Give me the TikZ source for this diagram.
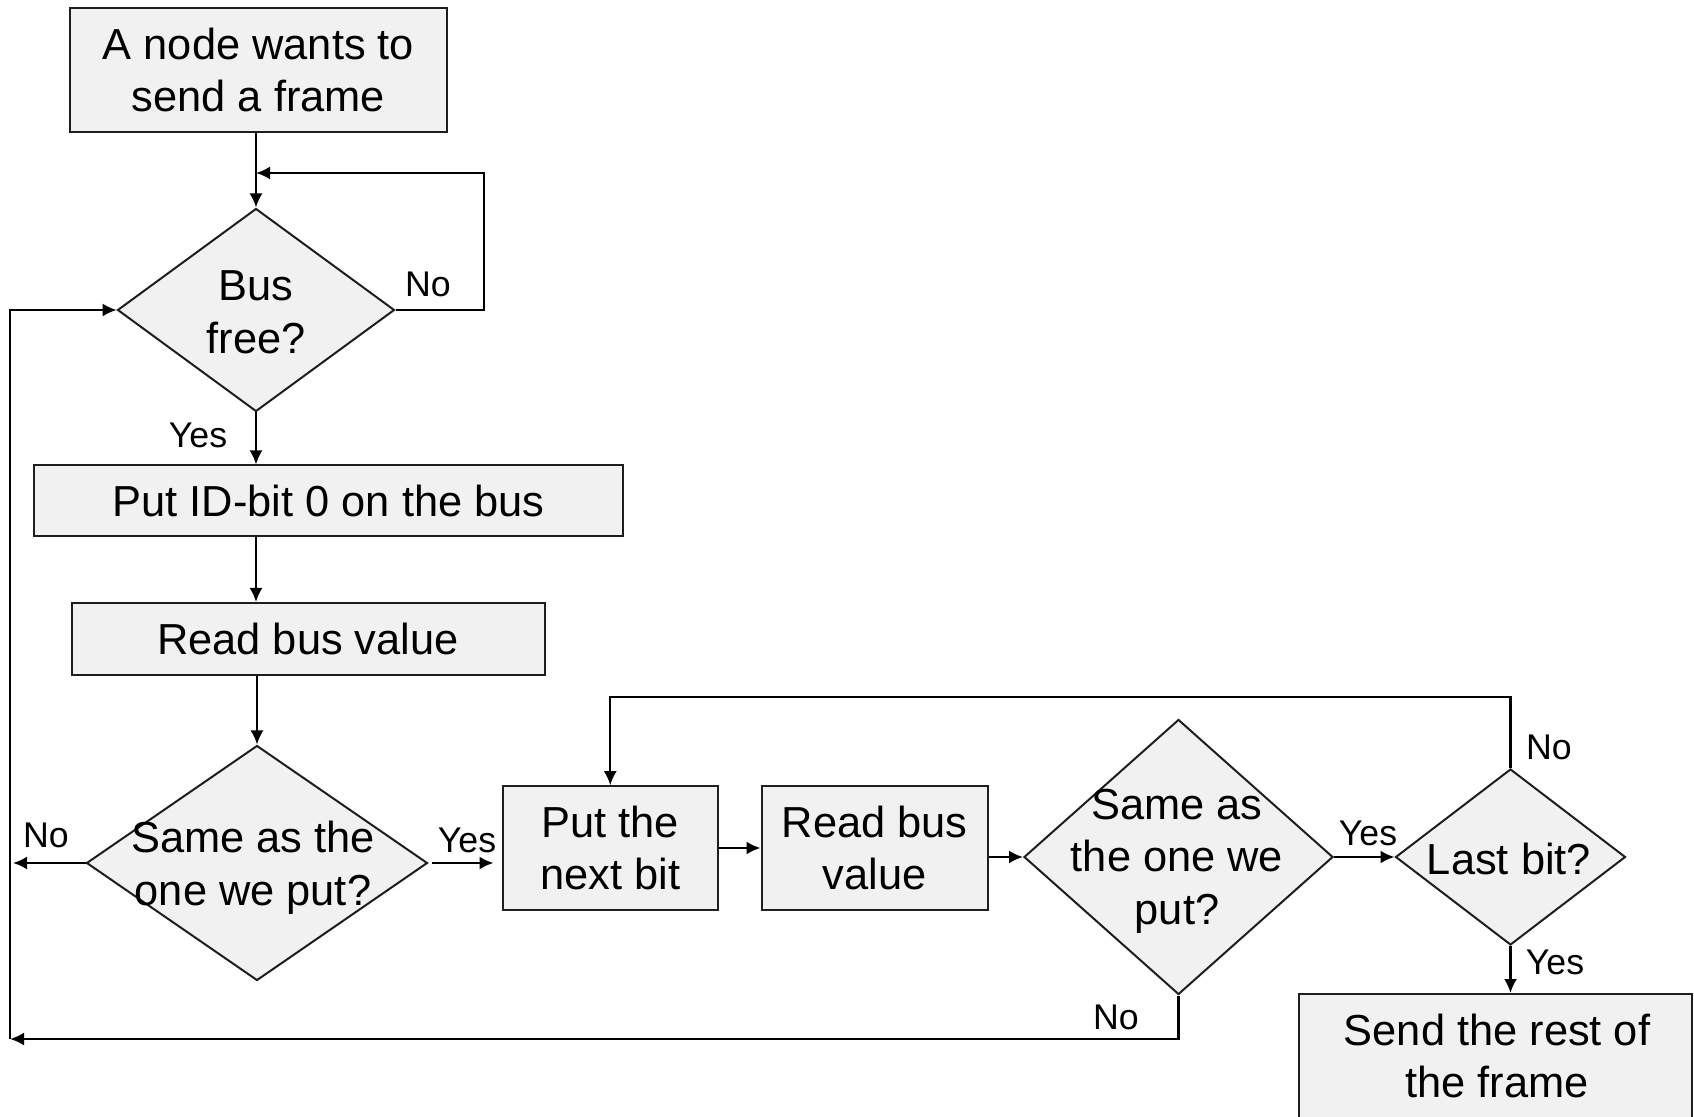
\documentclass[tikz,border=0pt]{standalone}
\usepackage{fontspec}
\setmainfont{Liberation Sans}
\usetikzlibrary{shapes.geometric,arrows.meta}
\definecolor{boxfill}{RGB}{241,241,241}
\definecolor{edge}{RGB}{30,30,30}
\begin{document}
\begin{tikzpicture}[x=0.5pt,y=-0.5pt,
  txt/.style={font=\fontsize{21.7pt}{26.3pt}\selectfont, align=center, inner sep=0},
  lbl/.style={font=\fontsize{17.85pt}{20pt}\selectfont, inner sep=0},
  stepbox/.style={draw=edge, fill=boxfill, line width=1pt, rectangle, inner sep=0, align=center, font=\fontsize{21.7pt}{26.3pt}\selectfont},
  decision/.style={draw=edge, fill=boxfill, line width=1pt, diamond, inner sep=0},
  flow/.style={draw=black, line width=1.15pt, -{Latex[length=7pt,width=6.5pt]}},
]
\useasboundingbox (0,0) rectangle (1694,1117);

% nodes
\node[stepbox, minimum width=188.5pt, minimum height=62pt] (start) at (258.5,70) {A node wants to\\send a frame};
\node[decision, minimum width=138.5pt, minimum height=101.5pt] (bus) at (256,310) {};
\node[txt] (bustxt) at (256,312) {Bus\\free?};
\node[stepbox, minimum width=294.5pt, minimum height=35.5pt] (putid) at (328.5,501) {Put ID-bit 0 on the bus};
\node[stepbox, minimum width=236.5pt, minimum height=36pt] (readbus) at (308,639) {Read bus value};
\node[decision, minimum width=170.5pt, minimum height=117.5pt] (d1) at (257,863) {};
\node[txt] (d1txt) at (253,868) {Same as the\\one we put?};
\node[stepbox, minimum width=107.75pt, minimum height=61.75pt] (pnb) at (610.25,848) {Put the\\next bit};
\node[stepbox, minimum width=113.25pt, minimum height=61.75pt] (rb2) at (874.75,848) {Read bus\\value};
\node[decision, minimum width=154.5pt, minimum height=137.5pt] (d2) at (1178.5,857) {};
\node[txt] (d2txt) at (1177,861) {Same as\\the one we\\put?};
\node[decision, minimum width=115pt, minimum height=88pt] (d3) at (1510.5,857) {};
\node[txt] (d3txt) at (1509,859) {Last bit?};
\node[stepbox, minimum width=196.5pt, minimum height=73pt] (send) at (1495.5,1067) {};
\node[txt] (sendtxt) at (1497,1056) {Send the rest of\\the frame};

% helper coordinates
\coordinate (loopcorner) at (484,173);
\coordinate (merge) at (256,173);
\coordinate (topline) at (612,697);
\coordinate (botleft) at (10,1039);
\coordinate (d1no) at (13,863);

% connectors
\draw[flow] (bus.north |- start.south) -- (bus.north);
\draw[flow] (bus.east) -| (loopcorner) -- (merge);
\draw[flow] (bus.south) -- (bus.south |- putid.north);
\draw[flow] (bus.south |- putid.south) -- (bus.south |- readbus.north);
\draw[flow] (d1.north |- readbus.south) -- (d1.north);
\draw[flow] (d1.west) -- (d1no);
\draw[flow, shorten <=1.5pt, shorten >=4pt] (d1.east) -- (d1.east -| pnb.west);
\draw[flow] (pnb.east) -- (rb2.west);
\draw[flow] (rb2.east |- d2.west) -- (d2.west);
\draw[flow] (d2.east) -- (d3.west);
\draw[flow] (d3.north) -- (d3.north |- topline) -| (pnb.north);
\draw[flow] (d3.south) -- (d3.south |- send.north);
\draw[flow] (d2.south) |- (botleft);
\draw[flow, line width=0.8pt] (botleft) |- (bus.west);

% labels
\node[lbl] (lbusno) at (428,284) {No};
\node[lbl] (lbusyes) at (198,435) {Yes};
\node[lbl] (ld1no) at (46,835) {No};
\node[lbl] (ld1yes) at (467,840) {Yes};
\node[lbl] (ld2yes) at (1368,833) {Yes};
\node[lbl] (ld3no) at (1549,747) {No};
\node[lbl] (ld3yes) at (1555,962) {Yes};
\node[lbl] (ld2no) at (1116,1017) {No};
\end{tikzpicture}
\end{document}
